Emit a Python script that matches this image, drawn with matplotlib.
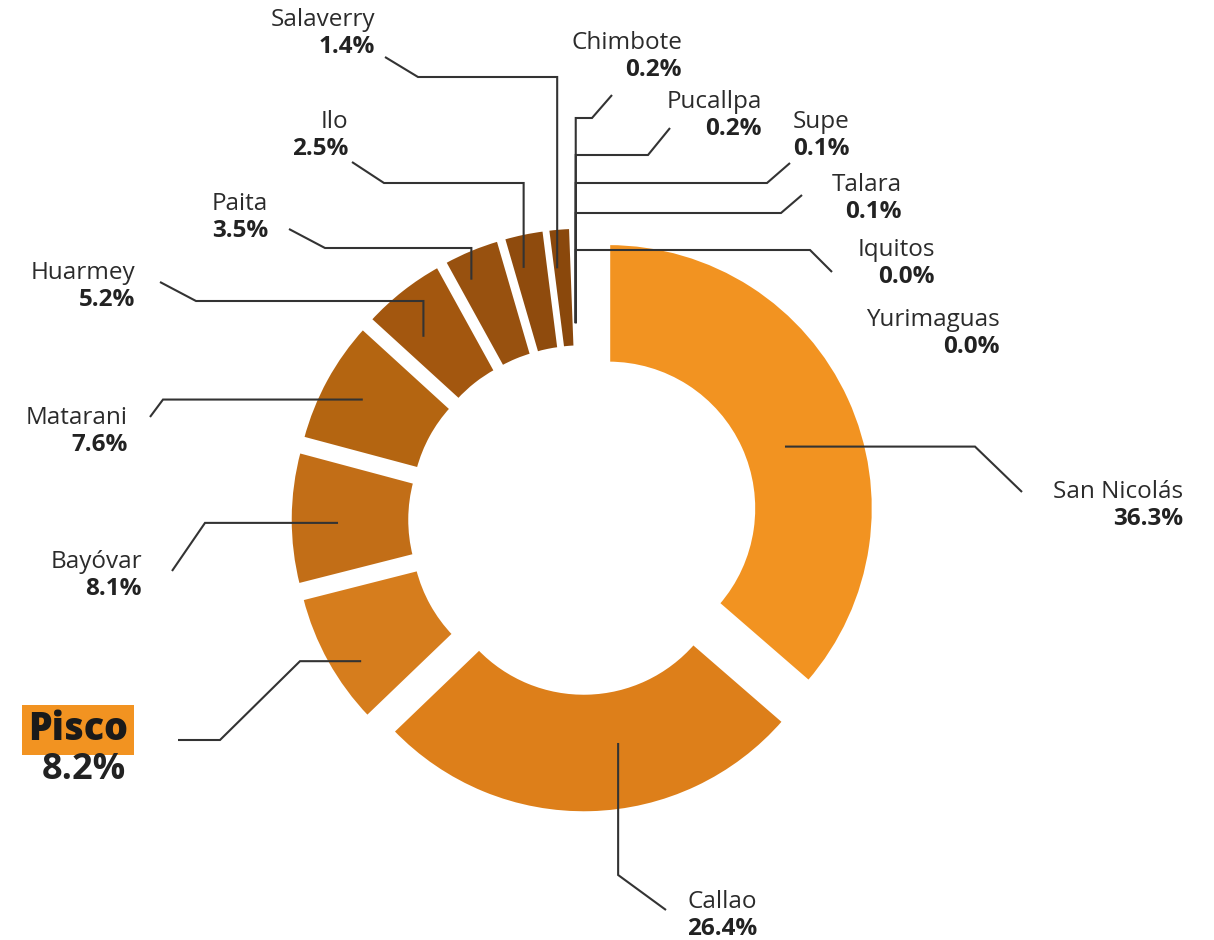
import matplotlib.pyplot as plt
import numpy as np

# Datos: participación por puerto (%)
ports = ["San Nicolás", "Callao", "Pisco", "Bayóvar", "Matarani", "Huarmey", "Paita",
         "Ilo", "Salaverry", "Chimbote", "Pucallpa", "Supe", "Talara", "Iquitos", "Yurimaguas"]
shares = [36.3, 26.4, 8.2, 8.1, 7.6, 5.2, 3.5, 2.5, 1.4, 0.2, 0.2, 0.1, 0.1, 0.0, 0.0]
pct_labels = ["36.3%", "26.4%", "8.2%", "8.1%", "7.6%", "5.2%", "3.5%",
              "2.5%", "1.4%", "0.2%", "0.2%", "0.1%", "0.1%", "0.0%", "0.0%"]
colors = ["#F29321", "#DD7F1A", "#D67D1D", "#C26E17", "#B46511", "#A3570F", "#98510F",
          "#8F4B0D", "#8A480C", "#84450C", "#84450C", "#84450C", "#84450C", "#84450C", "#84450C"]

# Posición de etiquetas (borde derecho x, centro y del nombre), en píxeles
label_pos = {
    "San Nicolás": (1183, 492),
    "Callao": (757, 902),
    "Bayóvar": (142, 562),
    "Matarani": (128, 418),
    "Huarmey": (135, 273),
    "Paita": (268, 204),
    "Ilo": (348, 122),
    "Salaverry": (375, 20),
    "Chimbote": (682, 43),
    "Pucallpa": (762, 102),
    "Supe": (850, 122),
    "Talara": (902, 185),
    "Iquitos": (935, 250),
    "Yurimaguas": (1000, 320),
}

# Líneas guía: (modo, puntos fijos, codo, radio del ancla, fracción angular)
routes = {
    "San Nicolás": ("h", [(1022, 492)], 975, 187, 0.54),
    "Callao": ("c", [(666, 910)], 875, 198, 0.41),
    "Pisco": ("h", [(178, 740), (220, 740)], 300, 235, 0.37),
    "Bayóvar": ("h", [(172, 571)], 205, 217, 0.46),
    "Matarani": ("h", [(150, 417)], 163, 223, 0.5),
    "Huarmey": ("v", [(160, 282), (196, 301)], None, 215, 0.33),
    "Paita": ("v", [(289, 229), (325, 248)], None, 237, 0.29),
    "Ilo": ("v", [(352, 162), (384, 183)], None, 231, 0.31),
    "Salaverry": ("v", [(385, 57), (418, 77)], None, 225, 0.24),
    "Chimbote": ("v", [(612, 95), (592, 118)], None, 169, 0.0),
    "Pucallpa": ("v", [(670, 128), (648, 155)], None, None, None),
    "Supe": ("v", [(790, 163), (767, 183)], None, None, None),
    "Talara": ("v", [(802, 195), (781, 213)], None, None, None),
    "Iquitos": ("v", [(832, 272), (810, 250)], None, None, None),
}

plt.rcParams['font.family'] = ['Open Sans', 'DejaVu Sans']

fig = plt.figure(figsize=(12.14, 9.40), dpi=100)
ax = fig.add_axes([0, 0, 1, 1])

wedges, _ = ax.pie(shares, colors=colors, radius=265, center=(583, 520),
                   startangle=-90, counterclock=True, explode=[28] * len(shares),
                   wedgeprops=dict(width=120, edgecolor='white', linewidth=2.5))

ax.set_xlim(0, 1214)
ax.set_ylim(940, 0)
ax.set_aspect('auto')
ax.axis('off')


def anchor_of(w, r, frac):
    th = np.deg2rad(w.theta1 + frac * (w.theta2 - w.theta1))
    cx, cy = w.center
    return cx + r * np.cos(th), cy + r * np.sin(th)


line_kw = dict(color='#333333', lw=1.5, solid_capstyle='butt', solid_joinstyle='miter')
trunk = None
for name, w in zip(ports, wedges):
    if name not in routes:
        continue
    mode, fixed, knee, r, frac = routes[name]
    if r is None:
        axx, ayy = trunk
    else:
        axx, ayy = anchor_of(w, r, frac)
        if name == "Chimbote":
            trunk = (axx, ayy)
    pts = list(fixed)
    if mode == "h":
        pts += [(knee, ayy), (axx, ayy)]
    elif mode == "v":
        pts += [(axx, fixed[-1][1]), (axx, ayy)]
    else:
        pts += [(axx, knee), (axx, ayy)]
    xs, ys = zip(*pts)
    ax.plot(xs, ys, **line_kw)

# Etiquetas
for name, pct in zip(ports, pct_labels):
    if name not in label_pos:
        continue
    x, y = label_pos[name]
    ax.text(x, y, name, ha='right', va='center', fontsize=17.5, color='#2b2b2b')
    ax.text(x, y + 27, pct, ha='right', va='center', fontsize=17.5,
            fontweight='bold', color='#222222')

# Pisco destacado
i = ports.index("Pisco")
ax.text(78, 730, ports[i], ha='center', va='center', fontsize=27, fontweight='heavy',
        color='#1a1a1a',
        bbox=dict(boxstyle='square,pad=0.15', facecolor='#F29321', edgecolor='none'))
ax.text(84, 770, pct_labels[i], ha='center', va='center', fontsize=26,
        fontweight='bold', color='#222222')

fig.savefig('out.png', dpi=100, facecolor='white')
